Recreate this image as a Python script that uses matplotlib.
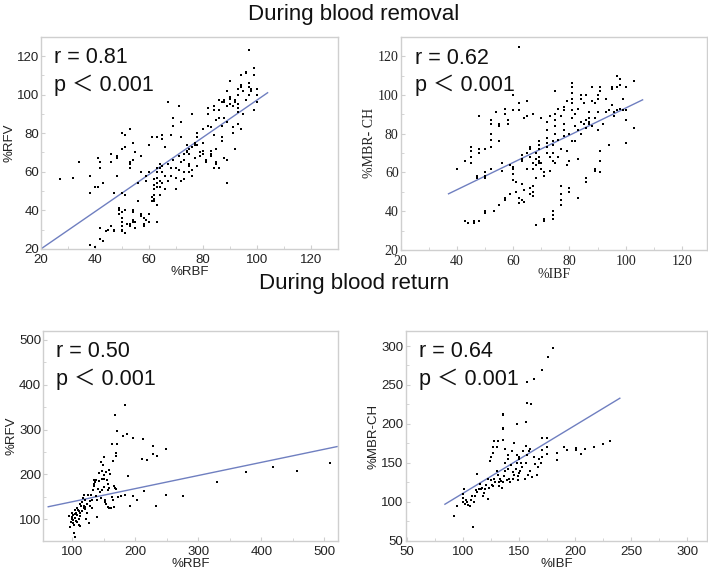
import matplotlib
matplotlib.use("Agg")
import matplotlib.pyplot as plt
from matplotlib.ticker import AutoMinorLocator

# ---- data ----
# top-left: %RBF vs %RFV during blood removal
rbf_rem = [27, 32, 34, 38, 38, 40, 41, 41, 42, 42, 43, 38, 40, 42, 42, 43, 44, 45, 46, 47,
           47, 46, 46, 47, 48, 48, 48, 49, 49, 49, 50, 50, 50, 50, 50, 51, 50, 51, 50, 51,
           50, 50, 51, 51, 53, 52, 53, 53, 54, 54, 54, 54, 55, 55, 53, 53, 53, 54, 54, 55,
           56, 56, 57, 57, 57, 57, 58, 58, 58, 59, 59, 59, 56, 60, 60, 60, 60, 61, 61, 61,
           62, 62, 62, 62, 62, 62, 63, 63, 63, 63, 63, 63, 63, 63, 64, 64, 64, 64, 64, 65,
           65, 65, 65, 65, 66, 66, 66, 67, 67, 67, 68, 68, 68, 69, 69, 69, 70, 70, 70, 70,
           71, 71, 71, 72, 72, 72, 72, 73, 73, 73, 73, 74, 74, 74, 75, 75, 75, 75, 75, 76,
           76, 76, 76, 77, 77, 77, 78, 78, 78, 78, 79, 79, 80, 80, 80, 80, 81, 81, 82, 82,
           82, 83, 83, 83, 83, 84, 84, 84, 84, 85, 85, 85, 85, 86, 86, 86, 86, 87, 87, 87,
           87, 88, 88, 88, 88, 89, 89, 89, 89, 89, 90, 90, 90, 90, 91, 91, 91, 92, 92, 92,
           93, 93, 93, 93, 93, 93, 94, 94, 94, 94, 95, 95, 96, 96, 96, 97, 97, 97, 98, 98,
           99, 99, 99, 100, 100, 100, 97]
rfv_rem = [56, 57, 65, 58, 49, 52, 52, 67, 65, 62, 54, 22, 21, 31, 25, 24, 29, 30, 32, 29,
           30, 65, 69, 49, 58, 67, 68, 41, 40, 38, 36, 34, 32, 30, 29, 28, 39, 40, 49, 48,
           72, 80, 73, 79, 82, 33, 33, 32, 34, 35, 40, 39, 34, 31, 62, 64, 65, 75, 66, 70,
           45, 54, 60, 68, 38, 37, 36, 32, 33, 35, 55, 58, 45, 60, 38, 34, 74, 78, 47, 45,
           45, 46, 53, 56, 51, 48, 52, 54, 57, 62, 60, 43, 34, 78, 48, 52, 55, 62, 64, 60,
           63, 77, 79, 54, 51, 58, 73, 96, 64, 55, 62, 58, 79, 84, 88, 66, 57, 51, 57, 62,
           68, 94, 61, 78, 86, 65, 55, 60, 56, 69, 66, 70, 71, 74, 64, 63, 60, 72, 69, 58,
           61, 73, 90, 74, 75, 67, 63, 78, 74, 80, 70, 68, 75, 71, 69, 82, 65, 66, 93, 84,
           90, 83, 68, 69, 71, 92, 94, 62, 79, 87, 72, 65, 64, 92, 97, 62, 88, 78, 76, 84,
           96, 96, 97, 88, 67, 86, 66, 54, 94, 102, 99, 95, 98, 107, 83, 80, 94, 72, 96, 97,
           95, 93, 91, 85, 100, 103, 105, 104, 82, 110, 90, 102, 97, 112, 111, 104, 123, 100, 103, 102,
           110, 114, 92, 100, 103, 96, 106]

# top-right: %IBF vs %MBR-CH during blood removal
ibf_rem = [40, 43, 43, 44, 45, 45, 45, 45, 46, 46, 47, 47, 48, 48, 48, 48, 50, 50, 50, 50,
           50, 50, 52, 52, 52, 52, 52, 52, 53, 54, 55, 55, 55, 55, 56, 56, 57, 57, 57, 57,
           58, 58, 59, 59, 60, 60, 60, 60, 60, 60, 61, 61, 62, 62, 62, 62, 62, 63, 63, 63,
           63, 63, 64, 64, 64, 65, 65, 65, 65, 66, 66, 66, 66, 66, 67, 67, 67, 67, 67, 67,
           68, 68, 68, 68, 68, 69, 69, 69, 69, 69, 69, 70, 70, 70, 71, 71, 71, 71, 72, 72,
           72, 72, 72, 72, 73, 73, 73, 74, 74, 74, 74, 74, 74, 74, 75, 75, 75, 75, 75, 75,
           76, 76, 76, 77, 77, 77, 77, 77, 77, 78, 78, 78, 78, 78, 79, 79, 79, 80, 80, 80,
           80, 81, 81, 81, 81, 81, 81, 81, 81, 82, 82, 82, 83, 83, 83, 83, 84, 84, 84, 84,
           85, 85, 86, 86, 86, 86, 86, 87, 87, 87, 87, 88, 88, 88, 89, 89, 89, 89, 90, 90,
           90, 90, 91, 91, 91, 91, 91, 92, 93, 93, 94, 94, 95, 95, 95, 96, 96, 97, 97, 97,
           98, 98, 98, 99, 99, 100, 100, 100, 100, 103, 103]
mbr_rem = [62, 66, 35, 34, 65, 68, 71, 73, 34, 35, 58, 57, 89, 70, 72, 35, 60, 58, 57, 39,
           40, 72, 80, 77, 85, 87, 73, 62, 40, 91, 84, 85, 76, 43, 61, 65, 47, 46, 90, 93,
           85, 87, 49, 64, 62, 63, 59, 56, 100, 92, 55, 50, 44, 96, 125, 92, 47, 66, 69, 67,
           54, 46, 45, 51, 88, 97, 89, 62, 70, 73, 72, 68, 49, 52, 62, 65, 53, 50, 48, 90,
           57, 67, 70, 64, 33, 72, 74, 76, 68, 66, 65, 62, 65, 88, 58, 60, 35, 36, 70, 73,
           75, 78, 82, 86, 61, 68, 89, 66, 70, 74, 76, 38, 40, 36, 102, 65, 80, 84, 87, 90,
           77, 93, 68, 43, 46, 49, 53, 72, 89, 79, 82, 85, 92, 94, 71, 97, 64, 50, 52, 66,
           80, 88, 92, 96, 98, 101, 104, 106, 76, 76, 84, 90, 47, 67, 82, 93, 80, 86, 98, 100,
           85, 96, 100, 57, 55, 83, 87, 85, 86, 88, 91, 104, 97, 84, 88, 61, 62, 96, 82, 91,
           98, 100, 102, 104, 66, 71, 60, 85, 98, 91, 92, 74, 103, 104, 95, 89, 91, 110, 104, 92,
           105, 108, 93, 98, 92, 104, 87, 75, 92, 107, 83]

# bottom-left: %RBF vs %RFV during blood return
rbf_ret = [168, 184, 171, 163, 171, 170, 170, 180, 187, 196, 212, 228, 248, 228, 234, 210, 219, 188, 214, 248,
           275, 330, 375, 419, 456, 509, 233, 203, 196, 192, 183, 178, 166, 158,
           95, 97, 98, 100, 100, 101, 102, 103, 103, 104, 104, 105, 105, 106, 107, 108, 108, 110, 110, 111,
           112, 112, 113, 114, 115, 116, 117, 118, 119, 120, 120, 121, 122, 123, 124, 125, 126, 128, 128, 130,
           131, 132, 133, 134, 135, 135, 136, 137, 138, 139, 140, 141, 142, 143, 144, 145, 146, 147, 147, 148,
           149, 150, 150, 151, 151, 152, 152, 153, 154, 155, 156, 156, 157, 158, 159, 160, 162, 163, 164, 165,
           167, 168, 170, 172, 99, 101, 106, 109, 113, 118]
rfv_ret = [333, 354, 297, 268, 268, 248, 240, 285, 289, 281, 279, 264, 257, 245, 242, 234, 233, 197, 163, 155,
           153, 182, 206, 216, 207, 226, 130, 144, 151, 130, 154, 151, 127, 126,
           108, 82, 95, 100, 105, 92, 98, 88, 70, 60, 112, 120, 103, 115, 95, 110, 125, 118, 100, 88,
           113, 108, 85, 130, 118, 138, 148, 155, 130, 143, 122, 128, 100, 133, 115, 155, 92, 130, 140, 155,
           143, 125, 165, 188, 178, 175, 182, 152, 188, 143, 105, 168, 185, 203, 160, 228, 148, 208, 165, 190,
           220, 198, 172, 238, 190, 142, 138, 135, 206, 188, 128, 165, 178, 170, 210, 200, 125, 150, 143, 230,
           175, 170, 168, 150, 115, 110, 97, 120, 135, 125]

# bottom-right: %IBF vs %MBR-CH during blood return
ibf_ret = [180, 176, 171, 157, 163, 157, 161, 156, 148, 136, 136, 136, 136,
           231, 225, 217, 209, 205, 201, 201, 193, 190, 184, 184, 175, 175, 175, 171, 171, 171,
           92, 95, 100, 100, 100, 101, 102, 103, 104, 105, 106, 107, 108, 109, 110, 111, 112, 113, 113, 114,
           115, 116, 117, 118, 119, 120, 121, 122, 122, 123, 124, 125, 125, 126, 127, 127, 127, 128, 128, 129,
           130, 130, 131, 131, 132, 132, 133, 134, 135, 136, 136, 137, 138, 138, 138, 139, 140, 140, 140, 141,
           142, 143, 144, 145, 145, 146, 146, 147, 148, 148, 149, 149, 150, 150, 150, 151, 152, 153, 154, 155,
           156, 156, 157, 158, 159, 160, 160, 162, 163, 164, 166, 167, 168, 170]
mbr_ret = [297, 286, 269, 254, 258, 227, 225, 203, 200, 213, 211, 195, 193,
           178, 174, 171, 168, 162, 169, 166, 167, 170, 163, 154, 161, 171, 182, 182, 167, 158,
           82, 95, 100, 105, 110, 116, 97, 103, 100, 96, 95, 102, 107, 68, 100, 108, 115, 113, 136, 117,
           123, 116, 118, 108, 112, 117, 122, 130, 104, 118, 153, 157, 128, 122, 163, 170, 120, 130, 178, 125,
           170, 140, 135, 178, 120, 125, 130, 127, 118, 180, 125, 133, 140, 168, 150, 128, 160, 155, 142, 130,
           125, 147, 165, 138, 130, 175, 135, 142, 150, 160, 128, 133, 137, 155, 158, 140, 150, 145, 165, 130,
           172, 150, 160, 135, 165, 168, 140, 132, 158, 148, 135, 145, 155, 150]

# regression line end points
fit_rem1_x, fit_rem1_y = [20, 104], [20, 101]
fit_rem2_x, fit_rem2_y = [37, 106], [49, 97.5]
fit_ret1_x, fit_ret1_y = [62, 520], [128, 262]
fit_ret2_x, fit_ret2_y = [84, 240], [97, 233]

stats = [("0.81", "0.001"), ("0.62", "0.001"), ("0.50", "0.001"), ("0.64", "0.001")]

LINE = "#6f7fc0"
FRAME = "#cfcfcf"
SANS = ["Liberation Sans", "DejaVu Sans"]
SERIF = ["Liberation Serif", "DejaVu Serif"]
ANNOT = ["Liberation Sans", "Noto Sans CJK JP", "DejaVu Sans"]

fig = plt.figure(figsize=(7.08, 5.76), dpi=100)

panels = [
    ([0.058, 0.568, 0.419, 0.368], rbf_rem, rfv_rem, fit_rem1_x, fit_rem1_y,
     (20, 130), (20, 130), [20, 40, 60, 80, 100, 120], [20, 40, 60, 80, 100, 120],
     "%RBF", "%RFV", SANS, 9.5),
    ([0.566, 0.566, 0.433, 0.370], ibf_rem, mbr_rem, fit_rem2_x, fit_rem2_y,
     (20, 129), (20, 130), [20, 40, 60, 80, 100, 120], [20, 40, 60, 80, 100, 120],
     "%IBF", "%MBR- CH", SERIF, 10),
    ([0.061, 0.061, 0.416, 0.364], rbf_ret, rfv_ret, fit_ret1_x, fit_ret1_y,
     (54, 521), (52, 519), [100, 200, 300, 400, 500], [100, 200, 300, 400, 500],
     "%RBF", "%RFV", SANS, 9.5),
    ([0.573, 0.061, 0.426, 0.364], ibf_ret, mbr_ret, fit_ret2_x, fit_ret2_y,
     (49, 318), (50, 319), [50, 100, 150, 200, 250, 300], [50, 100, 150, 200, 250, 300],
     "%IBF", "%MBR-CH", SANS, 9.5),
]

for i, (rect, xs, ys, fx, fy, xl, yl, xt, yt, xlab, ylab, fam, fs) in enumerate(panels):
    ax = fig.add_axes(rect)
    ax.scatter(xs, ys, s=4, marker="s", color="black", linewidths=0, zorder=3)
    ax.plot(fx, fy, color=LINE, lw=1.0, zorder=2)
    ax.set_xlim(*xl)
    ax.set_ylim(*yl)
    ax.set_xticks(xt)
    ax.set_yticks(yt)
    ax.xaxis.set_minor_locator(AutoMinorLocator(2))
    ax.yaxis.set_minor_locator(AutoMinorLocator(2))
    for s in ax.spines.values():
        s.set_color(FRAME)
        s.set_linewidth(1.0)
    ax.tick_params(which="both", direction="in", color=FRAME, length=3,
                   labelsize=fs, labelcolor="#222222")
    ax.tick_params(axis="x", pad=3.5)
    ax.tick_params(axis="y", pad=1.5)
    ax.tick_params(which="minor", length=2)
    for lab in ax.get_xticklabels() + ax.get_yticklabels():
        lab.set_family(fam)
    ax.set_xlabel(xlab, family=fam, fontsize=fs, color="#222222", labelpad=0)
    ax.set_ylabel(ylab, family=fam, fontsize=fs, color="#222222", labelpad=1)
    r, p = stats[i]
    ax.text(0.045, 0.875, "r = " + r, transform=ax.transAxes, fontsize=15.5,
            family=ANNOT, va="baseline", ha="left", color="#111111")
    ax.text(0.045, 0.745, "p \uff1c 0.001", transform=ax.transAxes, fontsize=15.5,
            family=ANNOT, va="baseline", ha="left", color="#111111")

fig.text(0.5, 0.975, "During blood removal", ha="center", va="center",
         fontsize=16, family=SANS, color="#111111")
fig.text(0.5, 0.508, "During blood return", ha="center", va="center",
         fontsize=16, family=SANS, color="#111111")

fig.savefig("out.png", dpi=100)
